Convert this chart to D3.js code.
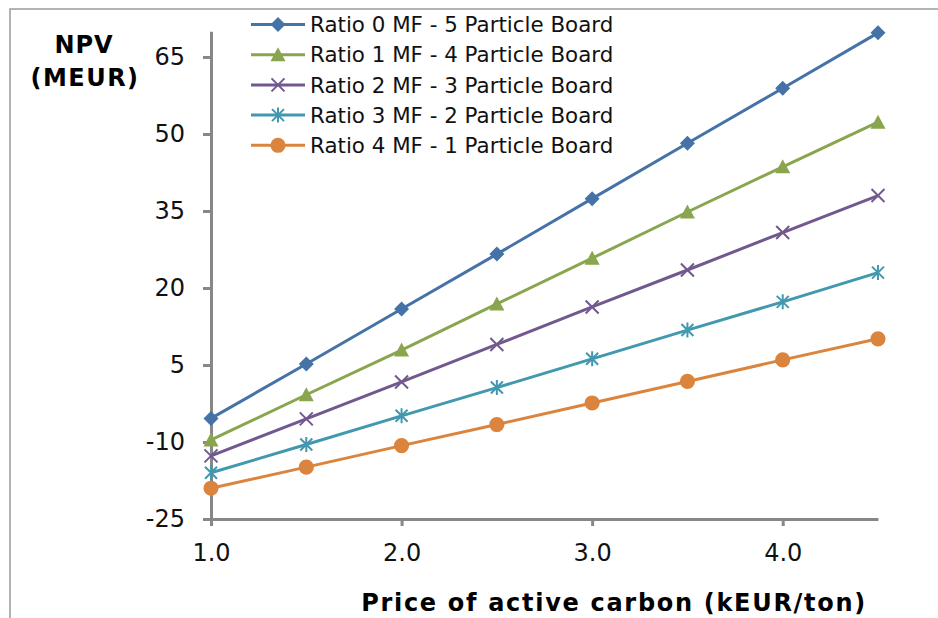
<!DOCTYPE html>
<html>
<head>
<meta charset="utf-8">
<script src="https://cdn.jsdelivr.net/npm/d3@7"></script>
<style>
  body { margin: 0; background: white; }
  text { font-family: "DejaVu Sans", Verdana, sans-serif; }
</style>
</head>
<body>
<div id="viz-container"></div>
<script>
// data
let prices = [1.0, 1.5, 2.0, 2.5, 3.0, 3.5, 4.0, 4.5];
let seriesNames = [
  "Ratio 0 MF - 5 Particle Board",
  "Ratio 1 MF - 4 Particle Board",
  "Ratio 2 MF - 3 Particle Board",
  "Ratio 3 MF - 2 Particle Board",
  "Ratio 4 MF - 1 Particle Board"
];
let ratio0 = [-5.4, 5.2, 15.9, 26.6, 37.4, 48.2, 58.9, 69.7];
let ratio1 = [-9.6, -0.8, 7.9, 16.9, 25.8, 34.8, 43.6, 52.3];
let ratio2 = [-12.7, -5.5, 1.7, 9.0, 16.3, 23.5, 30.8, 38.0];
let ratio3 = [-16.0, -10.5, -4.9, 0.6, 6.2, 11.8, 17.3, 23.0];
let ratio4 = [-19.0, -14.9, -10.7, -6.6, -2.4, 1.8, 6.0, 10.1];
let yTicks = [-25, -10, 5, 20, 35, 50, 65];
let xTicks = [1.0, 2.0, 3.0, 4.0];

let allSeries = [ratio0, ratio1, ratio2, ratio3, ratio4];
let colors = ["#4572A7", "#89A54E", "#71588F", "#4198AF", "#DB843D"];
let markers = ["diamond", "triangle", "cross", "star", "circle"];

let viz = d3.select("#viz-container")
              .append("svg")
                .attr("width", 938)
                .attr("height", 618)
                .style("background-color", "white")
;

// outer frame of the chart area (only top and left edges are visible)
viz.append("rect")
    .attr("x", 10)
    .attr("y", 9)
    .attr("width", 1000)
    .attr("height", 700)
    .attr("fill", "none")
    .attr("stroke", "#9a9a9a")
    .attr("stroke-width", 1.5)
;

let xScale = d3.scaleLinear().domain([1.0, 4.5]).range([211, 878]);
let yScale = d3.scaleLinear().domain([-25, 70]).range([519, 31.3]);

// axes (plain hyphen for negatives, like the original)
let yAxis = d3.axisLeft(yScale).tickValues(yTicks).tickSize(8).tickSizeOuter(0).tickPadding(18)
                .tickFormat(function(d){ return String(d); });
let xAxis = d3.axisBottom(xScale).tickValues(xTicks).tickSize(7).tickSizeOuter(0).tickPadding(18)
                .tickFormat(d3.format(".1f"));

let yGroup = viz.append("g").attr("transform", "translate(211,0)").call(yAxis);
let xGroup = viz.append("g").attr("transform", "translate(0,519)").call(xAxis);

[xGroup, yGroup].forEach(function(g){
  g.selectAll("path, line").attr("stroke", "#878787").attr("stroke-width", 3);
  g.selectAll("text")
      .attr("fill", "#111")
      .style("font-family", "'DejaVu Sans', Verdana, sans-serif")
      .style("font-size", "24px");
});

// axis titles
viz.append("text")
    .text("NPV")
    .attr("x", 84)
    .attr("y", 53)
    .attr("text-anchor", "middle")
    .style("font-weight", "bold")
    .style("font-size", "24px")
    .style("letter-spacing", "1px")
;
viz.append("text")
    .text("(MEUR)")
    .attr("x", 85)
    .attr("y", 86)
    .attr("text-anchor", "middle")
    .style("font-weight", "bold")
    .style("font-size", "24px")
    .style("letter-spacing", "1.5px")
;
viz.append("text")
    .text("Price of active carbon (kEUR/ton)")
    .attr("x", 614)
    .attr("y", 611)
    .attr("text-anchor", "middle")
    .style("font-weight", "bold")
    .style("font-size", "24px")
    .style("letter-spacing", "1.7px")
;

// marker shapes
function markerPath(type){
  if(type == "diamond"){
    return "M0,-7.5L7.5,0L0,7.5L-7.5,0Z";
  }
  if(type == "triangle"){
    return "M0,-7.5L7.5,6.5L-7.5,6.5Z";
  }
  if(type == "cross"){
    return "M-6.5,-6.5L6.5,6.5M-6.5,6.5L6.5,-6.5";
  }
  if(type == "star"){
    return "M-6,-6L6,6M-6,6L6,-6M0,-7.5L0,7.5";
  }
  return d3.symbol().type(d3.symbolCircle).size(180)();
}

function drawMarker(g, type, color){
  let p = g.append("path").attr("d", markerPath(type));
  if(type == "cross" || type == "star"){
    p.attr("fill", "none").attr("stroke", color).attr("stroke-width", 2);
  } else {
    p.attr("fill", color);
  }
}

let line = d3.line()
              .x(function(d, i){ return xScale(prices[i]); })
              .y(function(d){ return yScale(d); })
;

// draw the series, last one first so the top line sits on top
for(let s = allSeries.length - 1; s >= 0; s--){
  let values = allSeries[s];
  viz.append("path")
      .datum(values)
      .attr("d", line)
      .attr("fill", "none")
      .attr("stroke", colors[s])
      .attr("stroke-width", 3)
  ;
  let points = viz.selectAll(".pt" + s).data(values).enter().append("g")
                    .attr("class", "pt" + s)
                    .attr("transform", function(d, i){
                      return "translate(" + xScale(prices[i]) + "," + yScale(d) + ")";
                    })
  ;
  points.each(function(){
    drawMarker(d3.select(this), markers[s], colors[s]);
  });
}

// legend
let legend = viz.selectAll(".legendItem").data(seriesNames).enter().append("g")
                  .attr("class", "legendItem")
                  .attr("transform", function(d, i){ return "translate(251," + (24.5 + i * 30.2) + ")"; })
;
legend.append("line")
        .attr("x1", 0)
        .attr("x2", 54)
        .attr("y1", 0)
        .attr("y2", 0)
        .attr("stroke", function(d, i){ return colors[i]; })
        .attr("stroke-width", 3)
;
legend.each(function(d, i){
  let m = d3.select(this).append("g").attr("transform", "translate(27,0)");
  drawMarker(m, markers[i], colors[i]);
});
legend.append("text")
        .text(function(d){ return d; })
        .attr("x", 59)
        .attr("y", 0)
        .attr("dy", "0.36em")
        .attr("fill", "#111")
        .style("font-size", "21.4px")
;
</script>
</body>
</html>
